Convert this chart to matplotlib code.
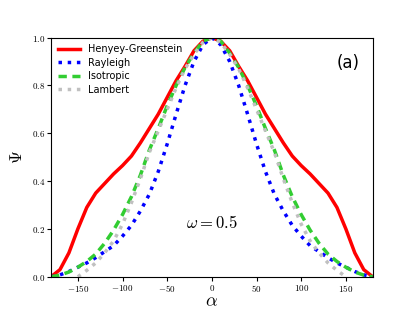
import numpy as np
import matplotlib
matplotlib.use("Agg")
import matplotlib.pyplot as plt
from matplotlib.ticker import FuncFormatter

# --- dados ---
alpha = list(range(-180, 181, 10))
alpha_lambert = list(range(-150, 151, 10))

psi_hg = [0.0, 0.03, 0.10, 0.20, 0.29, 0.35, 0.39, 0.43, 0.465, 0.505, 0.56, 0.62,
          0.68, 0.75, 0.82, 0.88, 0.945, 0.985, 1.0, 0.985, 0.945, 0.88, 0.82, 0.75,
          0.68, 0.62, 0.56, 0.505, 0.465, 0.43, 0.39, 0.35, 0.29, 0.20, 0.10, 0.03, 0.0]
psi_rayleigh = [0.0, 0.008, 0.022, 0.04, 0.058, 0.08, 0.105, 0.13, 0.17, 0.215, 0.275,
                0.345, 0.44, 0.555, 0.68, 0.80, 0.90, 0.97, 1.0, 0.97, 0.90, 0.80, 0.68,
                0.555, 0.44, 0.345, 0.275, 0.215, 0.17, 0.13, 0.105, 0.08, 0.058, 0.04,
                0.022, 0.008, 0.0]
psi_iso = [0.0, 0.007, 0.02, 0.04, 0.064, 0.095, 0.14, 0.195, 0.26, 0.335, 0.425, 0.53,
           0.62, 0.715, 0.80, 0.875, 0.935, 0.985, 1.0, 0.985, 0.935, 0.875, 0.80, 0.715,
           0.62, 0.53, 0.425, 0.335, 0.26, 0.195, 0.14, 0.095, 0.064, 0.04, 0.02, 0.007, 0.0]
psi_lambert = [0.0, 0.027, 0.058, 0.10, 0.15, 0.22, 0.31, 0.41, 0.52, 0.61, 0.70, 0.79,
               0.87, 0.93, 0.98, 1.0, 0.98, 0.93, 0.87, 0.79, 0.70, 0.61, 0.52, 0.41,
               0.31, 0.22, 0.15, 0.10, 0.058, 0.027, 0.0]

xticks = [-150, -100, -50, 0, 50, 100, 150]
yticks = [0.0, 0.2, 0.4, 0.6, 0.8, 1.0]

plt.rcParams['mathtext.fontset'] = 'cm'

fig = plt.figure(figsize=(4.15, 3.11), dpi=100)
ax = fig.add_axes([0.123, 0.110, 0.775, 0.769])

ax.plot(alpha, psi_hg, color='red', lw=2.5, label='Henyey-Greenstein')
ax.plot(alpha, psi_rayleigh, color='blue', lw=2.5, ls=':', label='Rayleigh')
ax.plot(alpha, psi_iso, color='limegreen', lw=2.5, ls='--', dashes=(2.4, 1.6),
        label='Isotropic')
ax.plot(alpha_lambert, psi_lambert, color='#c0c0c0', lw=2.5, ls=':', label='Lambert')

ax.set_xlim(-180, 180)
ax.set_ylim(0, 1)
ax.set_xticks(xticks)
ax.set_yticks(yticks)
ax.xaxis.set_major_formatter(FuncFormatter(lambda v, p: f"${v:.0f}$"))
ax.yaxis.set_major_formatter(FuncFormatter(lambda v, p: f"${v:.1f}$"))
ax.tick_params(labelsize=6.5, length=3, pad=1.5)

ax.set_xlabel(r'$\alpha$', fontsize=13, va='bottom')
ax.xaxis.set_label_coords(0.5, -0.138)
ax.set_ylabel(r'$\Psi$', fontsize=12, labelpad=4)

ax.text(0.5, 0.225, r'$\omega = 0.5$', transform=ax.transAxes, fontsize=12,
        ha='center', va='center')
ax.text(0.96, 0.93, '(a)', transform=ax.transAxes, fontsize=12, ha='right', va='top')

ax.legend(loc='upper left', frameon=False, fontsize=7, handlelength=2.3,
          labelspacing=0.35, borderaxespad=0.3)

fig.savefig('out.png', dpi=100)
